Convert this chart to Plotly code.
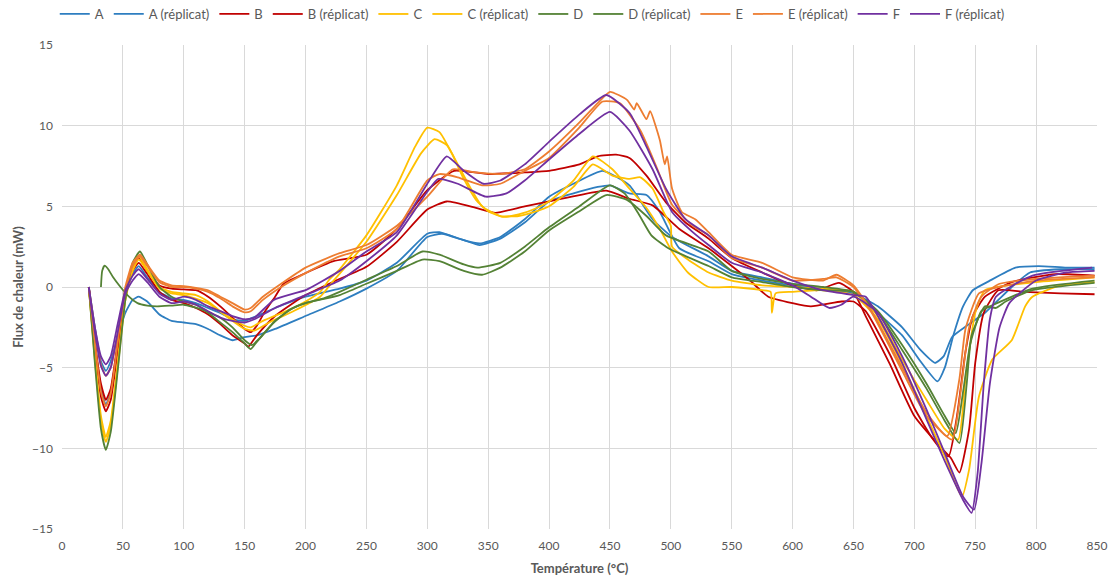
import plotly.graph_objects as go

# ---------------- data ----------------
A_T = [22, 27, 32, 36, 40, 46, 52, 58, 63, 70, 80, 90, 100, 110, 120, 130, 140, 150, 160, 175, 200, 228, 250, 275, 300, 312, 330, 343, 360, 380, 400, 420, 440, 450, 466, 480, 491, 507, 531, 550, 575, 600, 625, 650, 670, 690, 705, 717, 724, 731, 745, 758, 769, 780, 795, 820, 848]
A_Y = [0, -2.5, -4.6, -5.2, -4.6, -3.0, -1.6, -0.8, -0.6, -0.9, -1.7, -2.1, -2.2, -2.3, -2.6, -3.0, -3.3, -3.1, -3.0, -2.6, -1.8, -0.9, -0.1, 1.0, 3.1, 3.3, 2.9, 2.6, 3.0, 4.0, 5.3, 5.8, 6.2, 6.3, 5.8, 5.7, 4.65, 2.4, 1.6, 0.8, 0.4, 0.1, -0.1, -0.4, -1.2, -2.5, -3.9, -4.7, -4.3, -3.1, -2.3, -1.6, -0.8, 0.0, 0.9, 1.1, 1.1]

Ar_T = [22, 27, 32, 36, 40, 46, 52, 58, 63, 70, 80, 90, 100, 110, 120, 130, 140, 150, 160, 175, 200, 228, 250, 275, 300, 310, 330, 343, 360, 380, 400, 420, 444, 466, 485, 501, 531, 550, 575, 600, 625, 650, 670, 690, 705, 719, 725, 732, 740, 748, 761, 783, 802, 825, 848]
Ar_Y = [0, -3.5, -6.3, -7.3, -6.5, -3.5, -0.5, 0.8, 1.3, 0.6, -0.3, -0.7, -0.8, -1.0, -1.3, -1.6, -2.0, -2.1, -1.8, -1.3, -0.6, -0.1, 0.4, 1.5, 3.3, 3.4, 2.9, 2.7, 3.1, 4.2, 5.6, 6.4, 7.2, 6.3, 4.2, 3.1, 1.9, 1.0, 0.6, 0.2, -0.1, -0.3, -1.6, -3.0, -4.6, -5.85, -5.0, -3.0, -1.2, -0.2, 0.35, 1.2, 1.3, 1.2, 1.2]

B_T = [22, 27, 32, 36, 40, 46, 52, 58, 63, 70, 80, 90, 100, 110, 120, 130, 140, 150, 155, 160, 166, 175, 182, 201, 223, 250, 275, 300, 322, 350, 380, 400, 425, 440, 455, 466, 480, 496, 512, 531, 550, 575, 600, 620, 638, 650, 660, 680, 700, 720, 730, 737, 745, 750, 757, 769, 790, 820, 848]
B_Y = [0, -3.4, -6.0, -7.0, -6.3, -3.3, -0.2, 1.2, 1.8, 1.0, 0.1, -0.1, -0.15, -0.2, -0.6, -1.2, -1.9, -2.6, -2.8, -2.4, -1.6, -0.6, 0.2, 0.9, 1.6, 2.0, 3.6, 6.0, 7.2, 7.0, 7.1, 7.2, 7.6, 8.1, 8.2, 8.0, 6.9, 5.25, 4.0, 3.0, 1.8, 0.9, 0.1, -0.2, 0.25, -0.3, -1.8, -4.8, -8.0, -9.8, -10.6, -11.5, -8.8, -4.7, -1.6, -0.2, -0.3, -0.4, -0.45]

Br_T = [22, 27, 32, 36, 40, 46, 52, 58, 63, 70, 80, 90, 100, 110, 120, 130, 140, 150, 153, 160, 175, 200, 225, 250, 275, 300, 316, 340, 356, 380, 400, 425, 447, 466, 485, 507, 531, 550, 565, 580, 600, 615, 640, 650, 660, 680, 700, 715, 728, 735, 742, 748, 758, 780, 816, 848]
Br_Y = [0, -3.8, -6.8, -7.7, -7.0, -3.8, -0.5, 1.0, 1.5, 0.8, -0.3, -0.8, -1.0, -1.3, -1.7, -2.3, -3.0, -3.5, -3.7, -3.0, -1.8, -0.5, 0.4, 1.25, 2.8, 4.8, 5.3, 4.9, 4.6, 5.0, 5.3, 5.7, 5.97, 5.47, 5.06, 3.6, 2.4, 1.3, 0.4, -0.6, -1.0, -1.2, -0.9, -0.9, -1.5, -4.2, -7.5, -9.4, -10.5, -8.0, -4.0, -1.8, -0.6, 0.3, 0.8, 0.7]

C_T = [22, 27, 32, 36, 40, 46, 52, 58, 63, 70, 80, 90, 100, 110, 120, 130, 140, 150, 155, 165, 187, 200, 212, 220, 228, 250, 275, 290, 300, 310, 320, 330, 340, 350, 362, 375, 390, 400, 420, 436, 452, 466, 480, 491, 501, 514, 531, 550, 575, 582, 583, 586, 600, 625, 650, 670, 690, 710, 725, 739, 745, 753, 764, 780, 791, 797, 820, 848]
C_Y = [0, -4.5, -8.3, -9.6, -8.6, -4.8, -0.8, 1.2, 1.9, 1.1, 0.0, -0.3, -0.4, -0.5, -0.9, -1.5, -2.0, -2.4, -2.5, -2.1, -1.4, -0.9, -0.3, 0.5, 1.1, 3.2, 6.3, 8.7, 9.88, 9.6, 8.3, 6.7, 5.4, 4.7, 4.35, 4.5, 4.9, 5.3, 6.6, 8.1, 7.3, 6.1, 4.9, 3.6, 2.2, 0.9, 0.0, 0.0, -0.2, -0.3, -1.6, -0.4, -0.3, -0.2, -0.5, -2.0, -4.8, -8.0, -10.5, -13.0, -11.3, -6.8, -4.5, -3.3, -1.2, -0.6, 0.1, 0.3]

Cr_T = [22, 27, 32, 36, 40, 46, 52, 58, 63, 70, 80, 90, 100, 120, 140, 150, 158, 170, 190, 212, 222, 230, 250, 275, 295, 306, 316, 325, 335, 345, 360, 375, 390, 400, 420, 436, 452, 466, 475, 485, 494, 500, 501, 514, 531, 550, 575, 600, 625, 650, 670, 690, 710, 725, 736, 742, 750, 758, 800, 848]
Cr_Y = [0, -4.3, -8.0, -9.3, -8.3, -4.5, -0.8, 1.0, 1.7, 1.0, -0.1, -0.4, -0.5, -1.0, -2.1, -2.6, -2.7, -2.2, -1.5, -0.6, 0.3, 1.0, 2.8, 5.7, 8.3, 9.16, 8.8, 7.6, 6.2, 5.0, 4.4, 4.4, 4.7, 5.0, 6.2, 7.6, 6.9, 6.7, 6.8, 6.1, 4.65, 3.8, 2.5, 1.7, 0.9, 0.4, 0.1, 0.0, -0.1, -0.3, -1.8, -4.5, -7.0, -8.8, -9.46, -5.7, -1.6, -0.2, 0.3, 0.6]

D_T = [22, 27, 32, 36, 40, 46, 52, 58, 64, 70, 80, 90, 100, 110, 120, 130, 140, 150, 155, 160, 174, 187, 200, 215, 228, 250, 275, 296, 310, 330, 341, 360, 380, 400, 425, 450, 462, 473, 484, 498, 531, 550, 575, 600, 625, 650, 670, 690, 710, 725, 737, 743, 747, 758, 767, 775, 797, 848]
D_Y = [0, -4.7, -8.8, -10.1, -9.0, -5.0, -0.8, 1.5, 2.2, 1.4, 0.0, -0.6, -0.9, -1.1, -1.6, -2.2, -2.8, -3.5, -3.85, -3.4, -2.2, -1.4, -1.0, -0.7, -0.3, 0.45, 1.3, 2.2, 2.0, 1.4, 1.2, 1.5, 2.5, 3.7, 5.0, 6.3, 5.8, 4.6, 3.2, 2.4, 1.3, 0.6, 0.3, 0.0, -0.2, -0.3, -1.6, -3.9, -6.3, -8.3, -9.67, -6.0, -3.0, -1.2, -1.3, -0.9, -0.2, 0.25]

Dr_T = [32, 33, 35, 38, 42, 48, 55, 62, 70, 78, 90, 100, 115, 130, 140, 150, 156, 162, 175, 190, 200, 228, 250, 275, 296, 310, 330, 345, 360, 380, 400, 425, 447, 464, 480, 496, 531, 550, 575, 600, 625, 650, 670, 690, 710, 725, 734, 740, 746, 755, 765, 797, 848]
Dr_Y = [0, 1.0, 1.32, 1.1, 0.6, 0.0, -0.6, -1.0, -1.15, -1.2, -1.15, -1.1, -1.4, -1.9, -2.5, -3.3, -3.6, -3.2, -2.1, -1.3, -1.0, -0.5, 0.2, 1.0, 1.7, 1.6, 1.0, 0.76, 1.2, 2.2, 3.5, 4.7, 5.7, 5.4, 4.4, 3.2, 2.2, 1.0, 0.5, 0.2, 0.0, -0.3, -1.5, -3.6, -6.0, -8.0, -9.05, -6.5, -3.5, -1.5, -1.1, -0.1, 0.4]

E_T = [22, 27, 32, 36, 40, 46, 52, 58, 64, 70, 80, 90, 100, 110, 120, 130, 140, 150, 155, 165, 180, 200, 228, 250, 275, 300, 321, 340, 360, 380, 400, 425, 440, 450, 464, 470, 472, 480, 483, 491, 495, 497, 501, 509, 520, 531, 550, 575, 600, 625, 636, 650, 665, 690, 710, 727, 737, 742, 753, 769, 800, 848]
E_Y = [0, -3.4, -6.5, -7.4, -6.6, -3.3, 0.0, 1.5, 2.0, 1.4, 0.4, 0.1, 0.05, -0.05, -0.2, -0.6, -1.0, -1.4, -1.3, -0.6, 0.2, 1.2, 2.1, 2.6, 3.8, 5.6, 7.3, 7.1, 7.0, 7.3, 8.4, 10.2, 11.4, 12.1, 11.6, 11.0, 11.4, 10.4, 10.9, 9.1, 7.6, 8.1, 6.1, 4.65, 4.2, 3.4, 2.0, 1.5, 0.6, 0.4, 0.76, 0.1, -1.5, -5.0, -7.8, -9.25, -5.7, -2.6, -0.4, 0.0, 0.4, 0.6]

Er_T = [22, 27, 32, 36, 40, 46, 52, 58, 64, 70, 80, 90, 100, 110, 120, 130, 140, 150, 155, 165, 180, 200, 228, 250, 275, 300, 310, 325, 345, 360, 380, 400, 425, 444, 458, 475, 489, 501, 518, 531, 550, 575, 600, 625, 636, 650, 665, 690, 710, 731, 738, 745, 755, 770, 800, 848]
Er_Y = [0, -2.6, -4.8, -5.5, -5.0, -2.8, -0.3, 1.3, 1.9, 1.3, 0.3, 0.0, 0.0, -0.1, -0.3, -0.7, -1.2, -1.57, -1.5, -0.8, 0.0, 0.86, 1.9, 2.4, 3.6, 6.6, 7.0, 6.8, 6.3, 6.4, 7.2, 8.0, 9.9, 11.5, 11.4, 9.7, 7.3, 5.1, 3.8, 3.2, 1.8, 1.2, 0.4, 0.5, 0.6, 0.0, -1.6, -5.2, -8.0, -9.46, -6.5, -2.5, -0.6, 0.2, 0.5, 0.7]

F_T = [22, 27, 32, 36, 40, 46, 52, 58, 63, 70, 80, 90, 100, 110, 120, 130, 140, 150, 158, 174, 201, 228, 250, 275, 300, 316, 330, 346, 360, 380, 400, 425, 447, 466, 480, 496, 512, 531, 550, 575, 600, 625, 650, 660, 670, 690, 710, 725, 740, 747, 752, 757, 762, 767, 797, 846]
F_Y = [0, -2.5, -4.3, -4.8, -4.3, -2.2, -0.2, 0.7, 1.1, 0.5, -0.4, -0.8, -0.6, -0.8, -1.2, -1.5, -1.8, -2.0, -1.9, -0.8, -0.16, 1.0, 2.2, 3.4, 6.4, 8.1, 7.2, 6.4, 6.6, 7.6, 9.0, 10.7, 11.9, 10.8, 8.7, 6.1, 4.2, 3.2, 1.9, 1.2, 0.4, -0.2, -0.5, -0.6, -1.8, -4.7, -8.2, -10.8, -13.2, -14.0, -11.5, -6.0, -2.0, -0.6, 0.7, 1.2]

Fr_T = [22, 27, 32, 36, 40, 46, 52, 58, 63, 70, 80, 90, 100, 110, 120, 130, 140, 150, 158, 175, 200, 228, 250, 275, 300, 309, 325, 348, 365, 380, 400, 425, 450, 466, 485, 501, 518, 531, 550, 575, 600, 615, 630, 640, 650, 670, 690, 710, 725, 740, 749, 755, 762, 770, 778, 800, 825, 848]
Fr_Y = [0, -2.8, -4.9, -5.5, -5.0, -2.7, -0.4, 0.4, 0.8, 0.3, -0.6, -1.0, -0.9, -1.1, -1.5, -1.9, -2.1, -2.2, -2.0, -1.3, -0.5, 0.4, 1.6, 3.2, 5.9, 6.7, 6.4, 5.6, 5.8, 6.6, 7.9, 9.5, 10.85, 9.7, 7.3, 4.65, 3.4, 2.6, 1.5, 0.9, 0.1, -0.6, -1.3, -1.1, -0.6, -1.6, -4.3, -7.6, -10.3, -13.0, -13.8, -11.0, -6.0, -2.5, -1.0, 0.4, 0.9, 1.0]

NAMES = ["A", "A (réplicat)", "B", "B (réplicat)", "C", "C (réplicat)",
         "D", "D (réplicat)", "E", "E (réplicat)", "F", "F (réplicat)"]
SERIES_T = [A_T, Ar_T, B_T, Br_T, C_T, Cr_T, D_T, Dr_T, E_T, Er_T, F_T, Fr_T]
SERIES_Y = [A_Y, Ar_Y, B_Y, Br_Y, C_Y, Cr_Y, D_Y, Dr_Y, E_Y, Er_Y, F_Y, Fr_Y]
COLORS = ["#2E7EC0", "#2E7EC0", "#C00000", "#C00000", "#FFC000", "#FFC000",
          "#548235", "#548235", "#ED7D31", "#ED7D31", "#7030A0", "#7030A0"]

X_TICKS = list(range(0, 851, 50))
Y_TICKS = list(range(-15, 16, 5))

# ---------------- figure ----------------
fig = go.Figure()
for name, t, y, c in zip(NAMES, SERIES_T, SERIES_Y, COLORS):
    fig.add_trace(go.Scatter(x=t, y=y, name=name, mode="lines",
                             line=dict(color=c, width=1.8, shape="spline", smoothing=0.5)))

font = "Lato, 'Open Sans', sans-serif"
fig.update_layout(
    width=1112, height=581,
    margin=dict(l=62, r=15, t=45, b=52, autoexpand=False),
    paper_bgcolor="white", plot_bgcolor="white",
    font=dict(family=font, size=12, color="#595959"),
    showlegend=True,
    legend=dict(orientation="h", x=-0.007, xanchor="left", y=1.064, yanchor="middle",
                font=dict(size=13, color="#595959"), itemwidth=30,
                bgcolor="rgba(0,0,0,0)"),
    xaxis=dict(range=[0, 850], tickvals=X_TICKS, showgrid=True, gridcolor="#D9D9D9",
               gridwidth=1, zeroline=False, showline=False, ticks="",
               ticklabelstandoff=8,
               title=dict(text="<b>Température (°C)</b>", font=dict(size=13, color="#595959"), standoff=11)),
    yaxis=dict(range=[-15, 15], tickvals=Y_TICKS, showgrid=True, gridcolor="#D9D9D9",
               gridwidth=1, zeroline=True, zerolinecolor="#D9D9D9", zerolinewidth=1,
               showline=False, ticks="", ticklabelstandoff=8,
               title=dict(text="<b>Flux de chaleur (mW)</b>", font=dict(size=13, color="#595959"), standoff=5)),
)

fig.write_html("out.html", config={"displayModeBar": False},
               post_script="document.body.style.margin='0';document.body.style.overflow='hidden';")
